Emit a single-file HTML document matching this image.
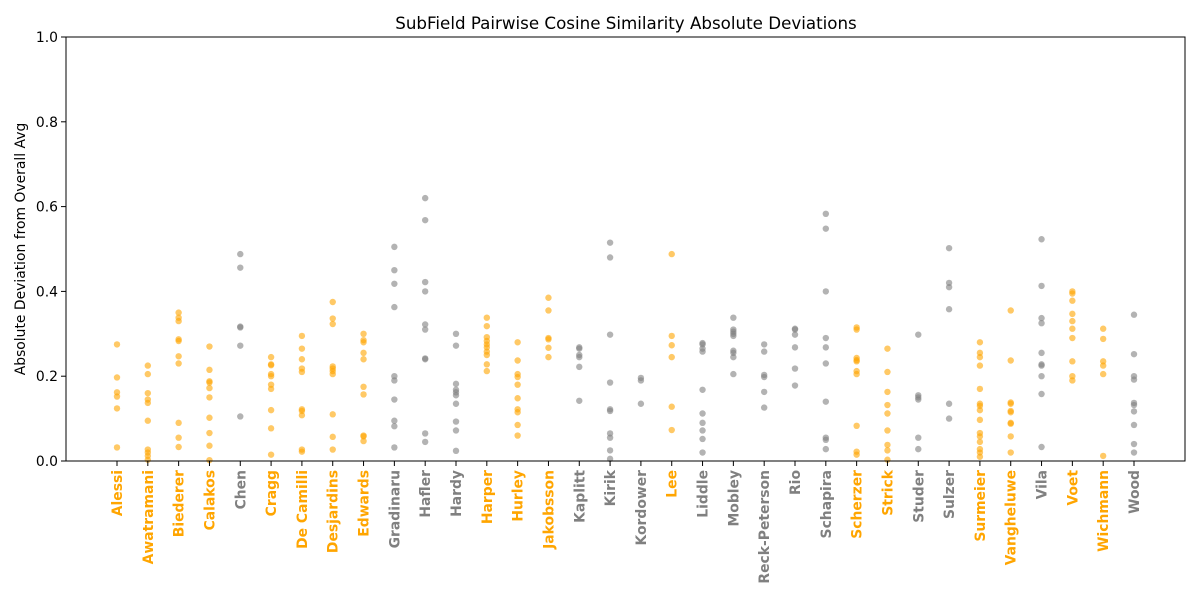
<!DOCTYPE html>
<html><head><meta charset="utf-8">
<style>
html,body{margin:0;padding:0;background:#fff;}
svg{display:block;font-family:"DejaVu Sans","Liberation Sans",sans-serif;}
</style></head>
<body>
<svg id="chart" width="1200" height="600" viewBox="0 0 1200 600"></svg>
<script>
const names = ["Alessi","Awatramani","Biederer","Calakos","Chen","Cragg","De Camilli","Desjardins","Edwards","Gradinaru","Hafler","Hardy","Harper","Hurley","Jakobsson","Kaplitt","Kirik","Kordower","Lee","Liddle","Mobley","Reck-Peterson","Rio","Schapira","Scherzer","Strick","Studer","Sulzer","Surmeier","Vangheluwe","Vila","Voet","Wichmann","Wood"];
const groups = ["o","o","o","o","g","o","o","o","o","g","g","g","o","o","o","g","g","g","o","g","g","g","g","g","o","o","g","g","o","o","g","o","o","g"];
const values = [
[0.275,0.197,0.162,0.152,0.124,0.032],
[0.225,0.205,0.16,0.145,0.137,0.095,0.027,0.02,0.012,0.003],
[0.35,0.338,0.33,0.287,0.283,0.247,0.23,0.09,0.055,0.033],
[0.27,0.215,0.188,0.185,0.172,0.15,0.102,0.066,0.036,0.002],
[0.488,0.456,0.317,0.315,0.272,0.105],
[0.245,0.228,0.226,0.205,0.2,0.18,0.17,0.12,0.077,0.015],
[0.295,0.265,0.24,0.218,0.21,0.122,0.118,0.108,0.027,0.022],
[0.375,0.336,0.323,0.223,0.218,0.212,0.205,0.11,0.057,0.027],
[0.3,0.285,0.28,0.255,0.24,0.175,0.157,0.06,0.058,0.047],
[0.505,0.45,0.418,0.363,0.2,0.19,0.145,0.095,0.082,0.032],
[0.62,0.568,0.422,0.4,0.322,0.31,0.242,0.24,0.065,0.045],
[0.3,0.272,0.182,0.168,0.162,0.155,0.135,0.093,0.072,0.024],
[0.338,0.318,0.292,0.283,0.275,0.268,0.258,0.25,0.228,0.212],
[0.28,0.237,0.205,0.198,0.18,0.148,0.122,0.115,0.085,0.06],
[0.385,0.355,0.29,0.287,0.267,0.245],
[0.268,0.265,0.25,0.245,0.222,0.142],
[0.515,0.48,0.298,0.185,0.122,0.118,0.065,0.055,0.025,0.005],
[0.196,0.19,0.135],
[0.488,0.295,0.273,0.245,0.128,0.073],
[0.278,0.275,0.265,0.258,0.168,0.112,0.09,0.072,0.052,0.02],
[0.338,0.31,0.305,0.3,0.295,0.26,0.255,0.245,0.205],
[0.275,0.258,0.203,0.198,0.163,0.126],
[0.312,0.31,0.298,0.268,0.218,0.178],
[0.583,0.548,0.4,0.29,0.268,0.23,0.14,0.055,0.05,0.028],
[0.315,0.31,0.243,0.238,0.235,0.212,0.205,0.083,0.022,0.015],
[0.265,0.21,0.163,0.132,0.112,0.072,0.038,0.025,0.003],
[0.298,0.155,0.15,0.145,0.055,0.028],
[0.502,0.42,0.41,0.358,0.135,0.1],
[0.28,0.255,0.245,0.225,0.17,0.135,0.13,0.12,0.097,0.066,0.058,0.045,0.028,0.02,0.01],
[0.355,0.237,0.138,0.135,0.118,0.115,0.09,0.088,0.058,0.02],
[0.523,0.413,0.337,0.325,0.255,0.228,0.225,0.2,0.158,0.033],
[0.4,0.395,0.378,0.347,0.33,0.312,0.29,0.235,0.2,0.19],
[0.312,0.288,0.235,0.225,0.205,0.012],
[0.345,0.252,0.2,0.192,0.137,0.132,0.117,0.085,0.04,0.02]
];
const yTicks = [0,0.2,0.4,0.6,0.8,1.0];
const yTickLabels = ["0.0","0.2","0.4","0.6","0.8","1.0"];

const NS="http://www.w3.org/2000/svg";
const svg=document.getElementById('chart');
const L=66,R=1185,T=37,B=461;
const x0=117,x1=1134;
function xScale(i){return x0+(x1-x0)*i/(names.length-1);}
function yScale(v){return B-(B-T)*v;}
function mk(tag,attrs,parent){const e=document.createElementNS(NS,tag);for(const k in attrs)e.setAttribute(k,attrs[k]);(parent||svg).appendChild(e);return e;}
const colorOf={o:"#FFA500",g:"#808080"};

const title=mk('text',{x:626,y:29,'text-anchor':'middle','font-size':16.7,fill:'#000'});
title.textContent="SubField Pairwise Cosine Similarity Absolute Deviations";



const yl=mk('text',{x:0,y:0,'text-anchor':'middle','font-size':13.9,fill:'#000',transform:'translate(25,249) rotate(-90)'});
yl.textContent="Absolute Deviation from Overall Avg";



yTicks.forEach((t,i)=>{
  const y=yScale(t);
  const tk=mk('line',{x1:L-5,x2:L,y1:y,y2:y,stroke:'#000','stroke-width':1});
  
  
  const tl=mk('text',{x:L-8,y:y+5,'text-anchor':'end','font-size':13.9,fill:'#000'});
  tl.textContent=yTickLabels[i];
  
  
});

const pts=mk('g',{});


names.forEach((n,i)=>{
  const x=xScale(i);
  const c=colorOf[groups[i]];
  const tk=mk('line',{x1:x,x2:x,y1:B,y2:B+5,stroke:'#000','stroke-width':1});
  
  
  const lb=mk('text',{x:0,y:0,'text-anchor':'end','font-size':13.9,'font-weight':'bold',fill:c,transform:`translate(${x+5},${B+9}) rotate(-90)`});
  lb.textContent=n;
  
  
  values[i].forEach(v=>{
    const p=mk('circle',{cx:x,cy:yScale(v),r:3.2,fill:c,'fill-opacity':0.6},pts);
    
    
  });
});

const frame=mk('rect',{x:L,y:T,width:R-L,height:B-T,fill:'none',stroke:'#000','stroke-width':1});


</script>
</body></html>
